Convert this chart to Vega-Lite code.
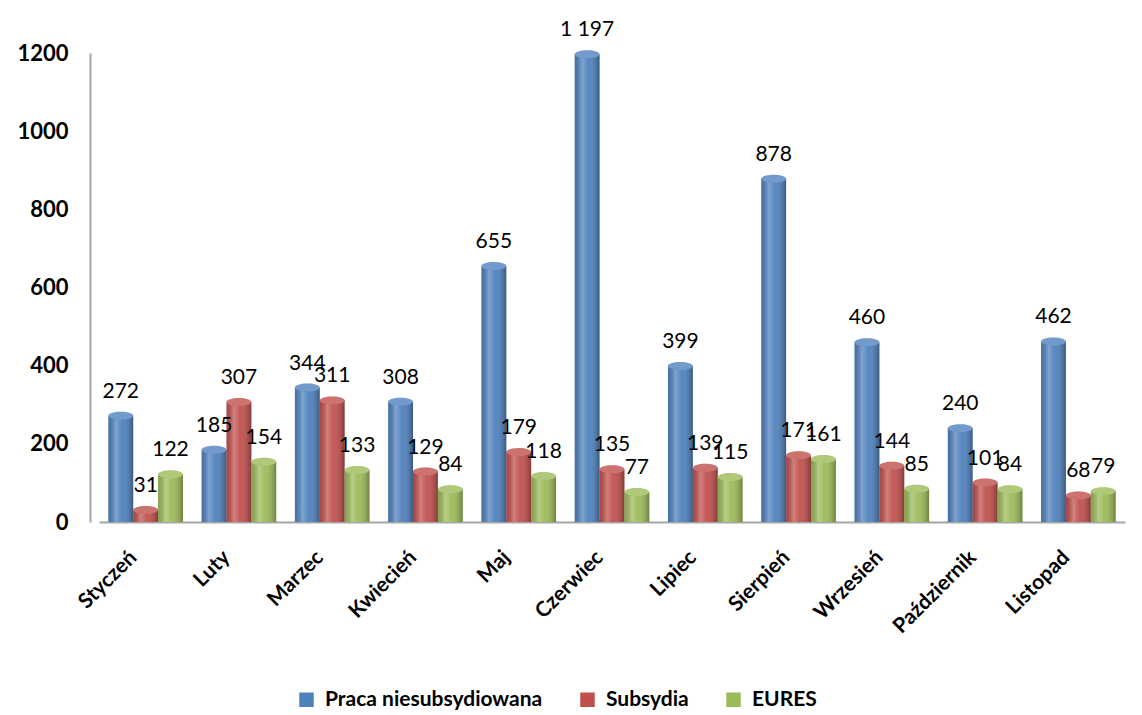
{
  "$schema": "https://vega.github.io/schema/vega-lite/v6.json",
  "autosize": "none",
  "width": 1026,
  "height": 469,
  "padding": {"left": 99, "top": 53, "right": 17, "bottom": 193},
  "background": "white",
  "config": {"view": {"stroke": null}, "font": "Lato"},
  "data": {"values": [
    {"month": "Styczeń", "series": "Praca niesubsydiowana", "value": 272, "label": "272"},
    {"month": "Styczeń", "series": "Subsydia", "value": 31, "label": "31"},
    {"month": "Styczeń", "series": "EURES", "value": 122, "label": "122"},
    {"month": "Luty", "series": "Praca niesubsydiowana", "value": 185, "label": "185"},
    {"month": "Luty", "series": "Subsydia", "value": 307, "label": "307"},
    {"month": "Luty", "series": "EURES", "value": 154, "label": "154"},
    {"month": "Marzec", "series": "Praca niesubsydiowana", "value": 344, "label": "344"},
    {"month": "Marzec", "series": "Subsydia", "value": 311, "label": "311"},
    {"month": "Marzec", "series": "EURES", "value": 133, "label": "133"},
    {"month": "Kwiecień", "series": "Praca niesubsydiowana", "value": 308, "label": "308"},
    {"month": "Kwiecień", "series": "Subsydia", "value": 129, "label": "129"},
    {"month": "Kwiecień", "series": "EURES", "value": 84, "label": "84"},
    {"month": "Maj", "series": "Praca niesubsydiowana", "value": 655, "label": "655"},
    {"month": "Maj", "series": "Subsydia", "value": 179, "label": "179"},
    {"month": "Maj", "series": "EURES", "value": 118, "label": "118"},
    {"month": "Czerwiec", "series": "Praca niesubsydiowana", "value": 1197, "label": "1 197"},
    {"month": "Czerwiec", "series": "Subsydia", "value": 135, "label": "135"},
    {"month": "Czerwiec", "series": "EURES", "value": 77, "label": "77"},
    {"month": "Lipiec", "series": "Praca niesubsydiowana", "value": 399, "label": "399"},
    {"month": "Lipiec", "series": "Subsydia", "value": 139, "label": "139"},
    {"month": "Lipiec", "series": "EURES", "value": 115, "label": "115"},
    {"month": "Sierpień", "series": "Praca niesubsydiowana", "value": 878, "label": "878"},
    {"month": "Sierpień", "series": "Subsydia", "value": 171, "label": "171"},
    {"month": "Sierpień", "series": "EURES", "value": 161, "label": "161"},
    {"month": "Wrzesień", "series": "Praca niesubsydiowana", "value": 460, "label": "460"},
    {"month": "Wrzesień", "series": "Subsydia", "value": 144, "label": "144"},
    {"month": "Wrzesień", "series": "EURES", "value": 85, "label": "85"},
    {"month": "Październik", "series": "Praca niesubsydiowana", "value": 240, "label": "240"},
    {"month": "Październik", "series": "Subsydia", "value": 101, "label": "101"},
    {"month": "Październik", "series": "EURES", "value": 84, "label": "84"},
    {"month": "Listopad", "series": "Praca niesubsydiowana", "value": 462, "label": "462"},
    {"month": "Listopad", "series": "Subsydia", "value": 68, "label": "68"},
    {"month": "Listopad", "series": "EURES", "value": 79, "label": "79"}
  ]},
  "encoding": {
    "x": {"field": "month", "type": "nominal", "sort": null,
      "scale": {"paddingInner": 0.2, "paddingOuter": 0.1},
      "axis": {"title": null, "labelAngle": -45, "labelAlign": "right", "labelBaseline": "middle",
        "labelFontSize": 21, "labelFontWeight": "bold", "labelColor": "black", "labelPadding": 32,
        "ticks": false, "domainColor": "#A6A6A6", "domainWidth": 2, "labelOffset": -12, "labelLimit": 0}},
    "xOffset": {"field": "series", "type": "nominal", "sort": ["Praca niesubsydiowana", "Subsydia", "EURES"], "scale": {"paddingInner": 0, "paddingOuter": 0}},
    "y": {"field": "value", "type": "quantitative",
      "scale": {"domain": [0, 1200], "nice": false},
      "axis": {"title": null, "values": [0, 200, 400, 600, 800, 1000, 1200], "format": "d", "grid": false, "ticks": false,
        "labelFontSize": 22, "labelFontWeight": "bold", "labelColor": "black", "labelPadding": 22,
        "offset": 9, "domainColor": "#A6A6A6", "domainWidth": 2}}
  },
  "layer": [
    {
      "mark": {"type": "bar", "cornerRadiusBottom": 6},
      "encoding": {
        "color": {"field": "series", "type": "nominal", "sort": ["Praca niesubsydiowana", "Subsydia", "EURES"],
          "scale": {"domain": ["Praca niesubsydiowana", "Subsydia", "EURES"], "range": ["#4F81BD", "#C0504D", "#9BBB59"]},
          "legend": {"title": null, "orient": "none", "direction": "horizontal", "legendX": 197, "legendY": 636,
            "symbolType": "square", "symbolSize": 210, "symbolStrokeWidth": 0, "labelFontSize": 21, "labelFontWeight": "bold",
            "labelColor": "black", "columnPadding": 34, "labelOffset": 8, "labelLimit": 0}}
      }
    },
    {
      "mark": {"type": "bar", "cornerRadiusBottom": 6,
        "fill": {"gradient": "linear", "x1": 0, "x2": 1, "y1": 0, "y2": 0,
          "stops": [
            {"offset": 0, "color": "rgba(0,0,0,0.12)"},
            {"offset": 0.3, "color": "rgba(255,255,255,0.28)"},
            {"offset": 0.55, "color": "rgba(255,255,255,0.05)"},
            {"offset": 1, "color": "rgba(0,0,0,0.3)"}
          ]}}
    },
    {
      "mark": {"type": "point", "filled": true, "shape": "M-1,0A1,0.32,0,1,1,1,0A1,0.32,0,1,1,-1,0Z", "size": 620, "opacity": 1},
      "encoding": {
        "color": {"field": "series", "type": "nominal",
          "scale": {"domain": ["Praca niesubsydiowana", "Subsydia", "EURES"], "range": ["#4F81BD", "#C0504D", "#9BBB59"]},
          "legend": null}
      }
    },
    {
      "mark": {"type": "point", "filled": true, "shape": "M-1,0A1,0.32,0,1,1,1,0A1,0.32,0,1,1,-1,0Z", "size": 620,
        "fill": "white", "opacity": 0.2}
    },
    {
      "mark": {"type": "text", "dy": -24, "fontSize": 21, "color": "black"},
      "encoding": {"text": {"field": "label"}}
    }
  ]
}
